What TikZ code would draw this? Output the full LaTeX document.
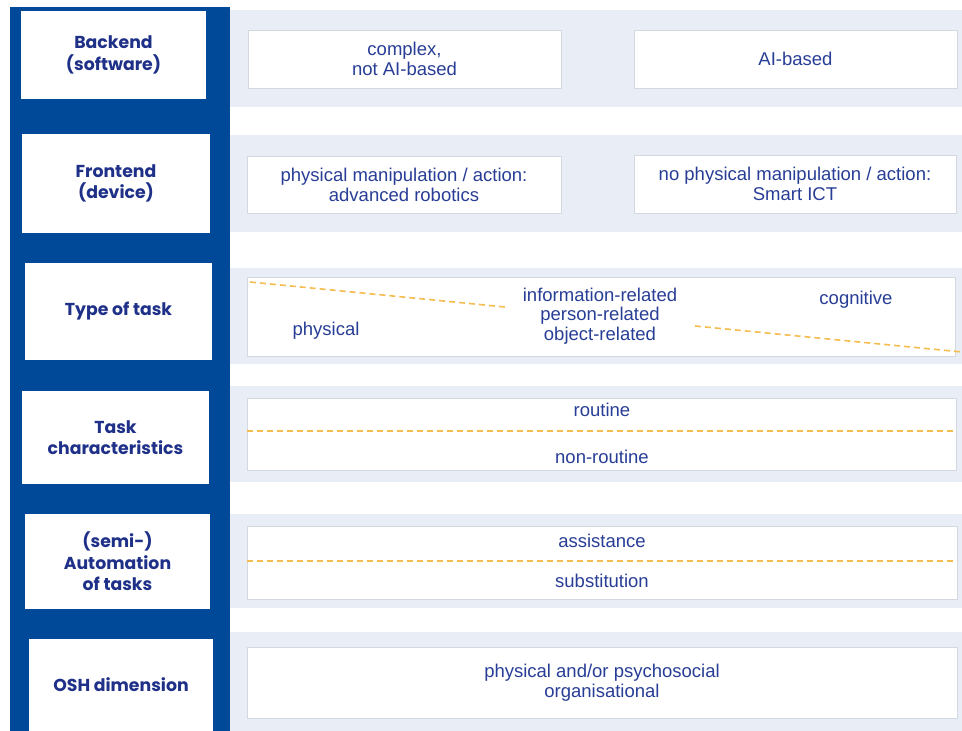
\documentclass[tikz,border=0pt]{standalone}
\usepackage{fontspec}
\setmainfont{Liberation Sans}
\newfontfamily\labfont{Poppins}
\definecolor{blueC}{RGB}{0,72,152}
\definecolor{labC}{RGB}{30,48,135}
\definecolor{textC}{RGB}{40,62,150}
\definecolor{bandC}{RGB}{233,237,245}
\definecolor{borderC}{RGB}{212,216,224}
\definecolor{dashC}{RGB}{245,188,80}
\begin{document}
\begin{tikzpicture}[x=1pt,y=-1pt,
  band/.style={fill=bandC, draw=none, inner sep=0pt, outer sep=0pt},
  cell/.style={fill=white, draw=borderC, line width=0.9pt, inner sep=0pt, outer sep=0pt, align=center, text=textC, font=\fontsize{18.5}{20}\selectfont},
  lab/.style={fill=white, draw=none, inner sep=0pt, outer sep=0pt, align=center, text=labC, font=\labfont\bfseries\fontsize{17.3}{21.5}\selectfont},
  txt/.style={text=textC, inner sep=0pt, align=center, font=\fontsize{18.5}{19.5}\selectfont},
  sep/.style={draw=dashC, line width=1.6pt, dash pattern=on 6pt off 4pt}]
\useasboundingbox (0,0) rectangle (962,731);
\fill[white] (0,0) rectangle (962,731);
% blue column
\node[fill=blueC, inner sep=0pt, outer sep=0pt, minimum width=220pt, minimum height=724pt] (col) at (120,369) {};
% left labels
\node[lab, minimum width=185pt, minimum height=88pt] (L1) at (113.5,55) {Backend\\(software)};
\node[lab, minimum width=188pt, minimum height=99pt] (L2) at (116,183.5) {Frontend\\(device)};
\node[lab, minimum width=187pt, minimum height=97pt] (L3) at (118.5,311.5) {Type of task};
\node[lab, minimum width=187pt, minimum height=93pt] (L4) at (115.5,437.5) {Task\\characteristics};
\node[lab, minimum width=185pt, minimum height=95pt] (L5) at (117.5,561.5) {(semi-)\\Automation\\of tasks};
\node[lab, minimum width=184pt, minimum height=92pt] (L6) at (121,685) {OSH dimension};
% bands
\node[band, minimum width=732pt, minimum height=97pt] (B1) at (596,58.5) {};
\node[band, minimum width=732pt, minimum height=97pt] (B2) at (596,183.5) {};
\node[band, minimum width=732pt, minimum height=96pt] (B3) at (596,316) {};
\node[band, minimum width=732pt, minimum height=96pt] (B4) at (596,434) {};
\node[band, minimum width=732pt, minimum height=94pt] (B5) at (596,561) {};
\node[band, minimum width=732pt, minimum height=99pt] (B6) at (596,681.5) {};
% cells
\node[cell, minimum width=313pt, minimum height=58pt] (C1L) at (404.5,59) {complex,\\not AI-based};
\node[cell, minimum width=323pt, minimum height=58pt] (C1R) at (795.5,59) {AI-based};
\node[cell, minimum width=314pt, minimum height=57pt] (C2L) at (404,184.5) {physical manipulation / action:\\advanced robotics};
\node[cell, minimum width=322pt, minimum height=58pt] (C2R) at (795,184) {no physical manipulation / action:\\Smart ICT};
\node[cell, minimum width=708pt, minimum height=79pt] (C3) at (601,316.5) {};
\node[cell, minimum width=709pt, minimum height=72pt] (C4) at (601.5,434) {};
\node[cell, minimum width=710pt, minimum height=73pt] (C5) at (602,562.5) {};
\node[cell, minimum width=710pt, minimum height=71pt] (C6) at (602,682.5) {physical and/or psychosocial\\organisational};
% dashed separators
\coordinate (d1a) at (250,282);
\coordinate (d1b) at (505,307);
\coordinate (d2a) at (695,326);
\coordinate (d2b) at (962,352);
\coordinate (d3a) at (247,431);
\coordinate (d3b) at (956,431);
\coordinate (d4a) at (247,561);
\coordinate (d4b) at (957,561);
\draw[sep] (d1a) -- (d1b);
\draw[sep] (d2a) -- (d2b);
\draw[sep] (d3a) -- (d3b);
\draw[sep] (d4a) -- (d4b);
% texts
\node[txt] (phys) at (326,331) {physical};
\node[txt] (rel) at (600,316) {information-related\\person-related\\object-related};
\node[txt] (cog) at (856,300) {cognitive};
\node[txt] (rout) at (602,410) {routine};
\node[txt] (nrout) at (602,457) {non-routine};
\node[txt] (assist) at (602,541) {assistance};
\node[txt] (subst) at (602,581) {substitution};
\end{tikzpicture}
\end{document}
